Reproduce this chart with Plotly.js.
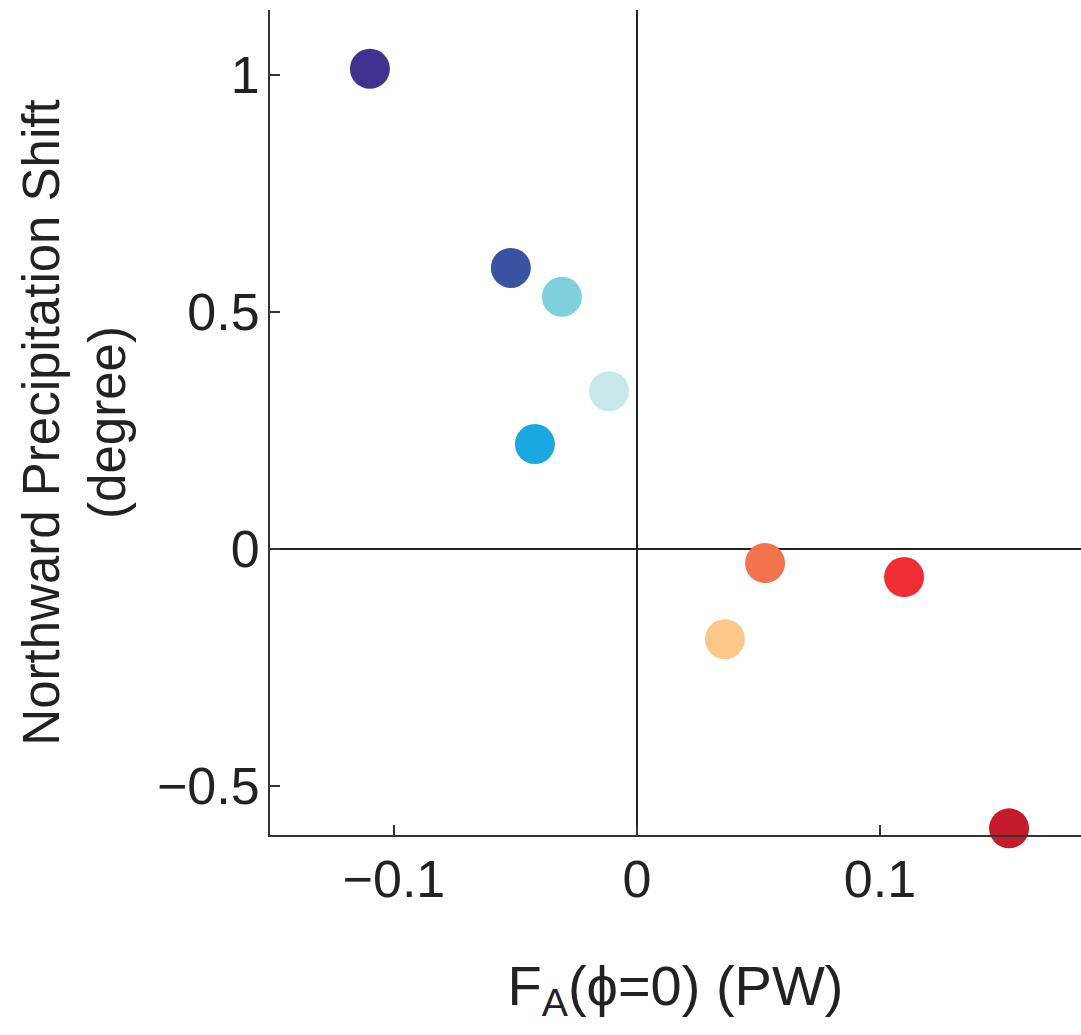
<!DOCTYPE html>
<html>
<head>
<meta charset="utf-8">
<script src="https://cdn.plot.ly/plotly-3.0.1.min.js"></script>
<style>html,body{margin:0;padding:0;background:#fff;}#chart{width:1081px;height:1035px;}</style>
</head>
<body>
<div id="chart"></div>
<script>
const fluxPW = [-0.1099, -0.0519, -0.0309, -0.0115, -0.0420, 0.0527, 0.1099, 0.0362, 0.1531];
const precipShift = [1.013, 0.593, 0.532, 0.333, 0.2215, -0.0295, -0.059, -0.190, -0.589];
const pointColors = ['#413290', '#3a52a2', '#7dd0dc', '#c6e8e8', '#1aa8e0', '#f2744c', '#ee2e32', '#fcc88a', '#c41a2a'];
const xTicks = [-0.1, 0, 0.1];
const xTickText = ['\u22120.1', '0', '0.1'];
const yTicks = [-0.5, 0, 0.5, 1];
const yTickText = ['\u22120.5', '0', '0.5', '1'];

const font = 'Liberation Sans, Arial, sans-serif';
const trace = {
  x: fluxPW, y: precipShift, type: 'scatter', mode: 'markers',
  marker: {size: 40, color: pointColors, line: {width: 0}},
  cliponaxis: false, hoverinfo: 'x+y'
};
const layout = {
  width: 1081, height: 1035,
  margin: {l: 270, r: 0, t: 10, b: 200},
  paper_bgcolor: '#fff', plot_bgcolor: '#fff',
  showlegend: false,
  font: {family: font, color: '#222', size: 52},
  xaxis: {
    range: [-0.151, 0.1827], tickvals: xTicks, ticktext: xTickText,
    ticks: 'inside', ticklen: 10, tickwidth: 2, tickcolor: '#333',
    showline: true, linecolor: '#333', linewidth: 2, mirror: false,
    showgrid: false, zeroline: true, zerolinecolor: '#222', zerolinewidth: 2,
    tickfont: {size: 52, family: font, color: '#222'},
    ticklabelstandoff: -2,
    title: {text: 'F<sub>A</sub>(\u03d5=0) (PW)', font: {size: 56, family: font, color: '#222'}, standoff: 58},
    automargin: false
  },
  yaxis: {
    range: [-0.603, 1.137], tickvals: yTicks, ticktext: yTickText,
    ticks: 'inside', ticklen: 10, tickwidth: 2, tickcolor: '#333',
    showline: true, linecolor: '#333', linewidth: 2,
    showgrid: false, zeroline: true, zerolinecolor: '#222', zerolinewidth: 2,
    tickfont: {size: 52, family: font, color: '#222'},
    ticklabelstandoff: -2,
    title: {text: 'Northward Precipitation Shift<br>(degree)', font: {size: 51, family: font, color: '#222'}, standoff: 15},
    automargin: false
  }
};
Plotly.newPlot('chart', [trace], layout, {displayModeBar: false, staticPlot: true});
</script>
</body>
</html>
